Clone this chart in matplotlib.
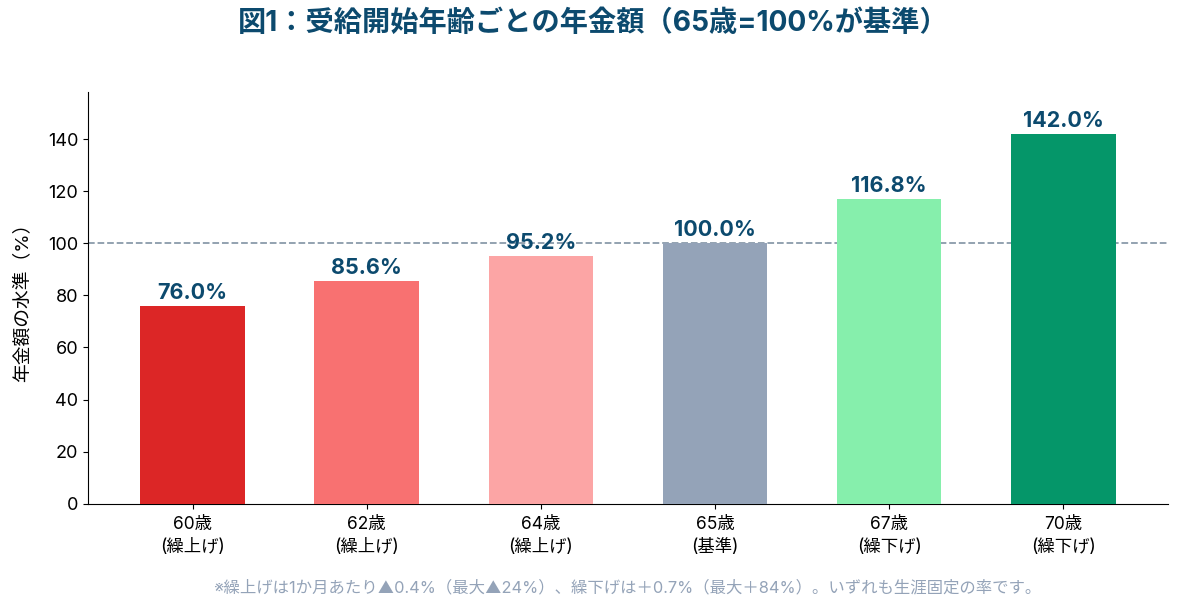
import matplotlib.pyplot as plt

plt.rcParams['font.family'] = ['Inter', 'Noto Sans CJK JP', 'DejaVu Sans']

ages = ['60歳\n(繰上げ)', '62歳\n(繰上げ)', '64歳\n(繰上げ)', '65歳\n(基準)', '67歳\n(繰下げ)', '70歳\n(繰下げ)']
levels = [76.0, 85.6, 95.2, 100.0, 116.8, 142.0]
colors = ['#DC2626', '#F87171', '#FCA5A5', '#94A3B8', '#86EFAC', '#059669']

fig = plt.figure(figsize=(11.82, 6.10), dpi=100)
ax = fig.add_axes([0.0745, 0.174, 0.9135, 0.675])

x = range(len(ages))
ax.bar(x, levels, width=0.6, color=colors, zorder=3)
ax.axhline(100, color='#8A9BAA', linestyle='--', linewidth=1.3, zorder=2)

for i, v in enumerate(levels):
    ax.text(i, v + 1.2, f'{v:.1f}%', ha='center', va='bottom', fontsize=15.5,
            fontweight='bold', color='#0C4A6E', zorder=4)

ax.set_xticks(list(x))
ax.set_xticklabels(ages, fontsize=12.5, linespacing=1.45)
ax.tick_params(axis='y', labelsize=13)
ax.tick_params(axis='x', pad=5)
ax.set_xlim(-0.6, 5.6)
ax.set_ylim(0, 158)
ax.set_yticks(range(0, 141, 20))
ax.set_ylabel('年金額の水準（%）', fontsize=13.5, labelpad=12)
ax.spines['top'].set_visible(False)
ax.spines['right'].set_visible(False)

fig.text(0.502, 0.962, '図1：受給開始年齢ごとの年金額（65歳=100%が基準）', ha='center', va='center',
         fontsize=20.3, fontweight='bold', color='#0C4A6E')
fig.text(0.531, 0.036, '※繰上げは1か月あたり▲0.4%（最大▲24%）、繰下げは＋0.7%（最大＋84%）。いずれも生涯固定の率です。',
         ha='center', va='center', fontsize=11.8, color='#94A3B8')

fig.savefig('out.png', dpi=100)
